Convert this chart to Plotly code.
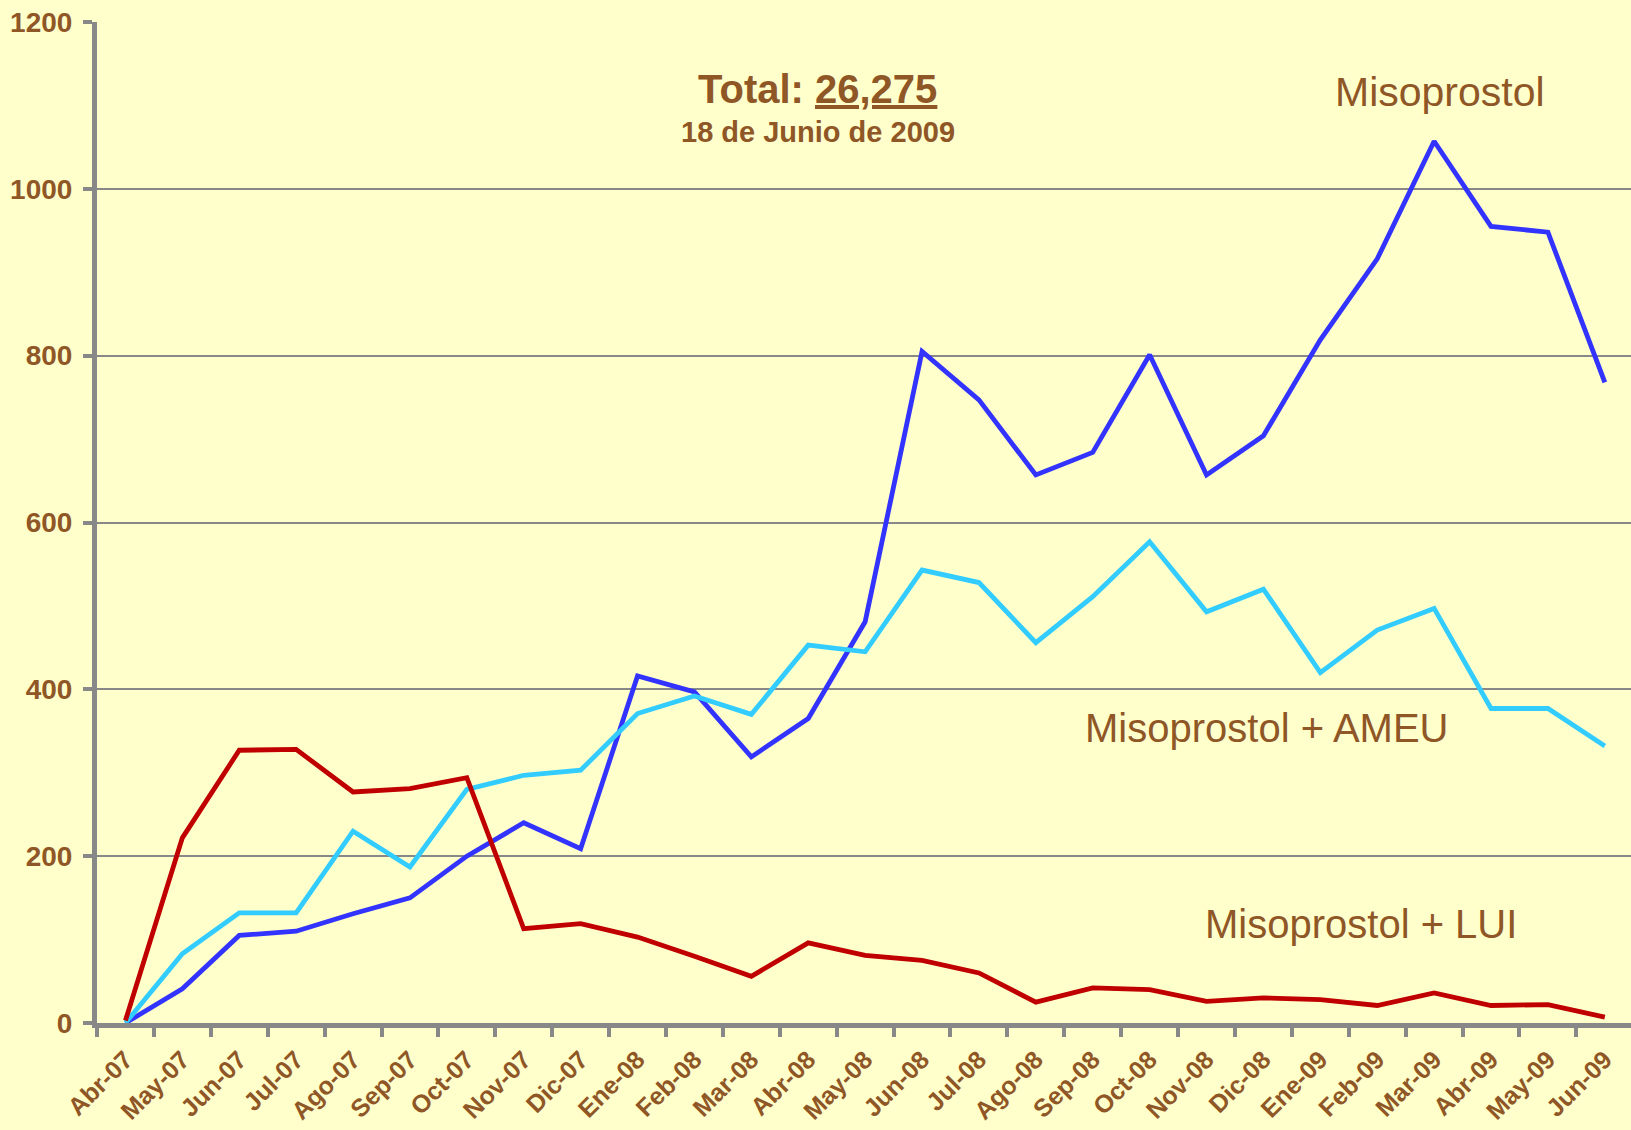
import plotly.graph_objects as go

months = ["Abr-07", "May-07", "Jun-07", "Jul-07", "Ago-07", "Sep-07", "Oct-07", "Nov-07", "Dic-07",
          "Ene-08", "Feb-08", "Mar-08", "Abr-08", "May-08", "Jun-08", "Jul-08", "Ago-08", "Sep-08",
          "Oct-08", "Nov-08", "Dic-08", "Ene-09", "Feb-09", "Mar-09", "Abr-09", "May-09", "Jun-09"]

misoprostol = [0, 41, 105, 110, 131, 150, 200, 240, 209,
               416, 397, 319, 365, 481, 805, 747, 657, 684,
               801, 657, 704, 819, 916, 1057, 955, 948, 768]

miso_ameu = [0, 83, 132, 132, 230, 187, 280, 297, 303,
             371, 392, 370, 453, 445, 543, 528, 456, 511,
             577, 493, 520, 420, 471, 497, 377, 377, 332]

miso_lui = [3, 222, 327, 328, 277, 281, 294, 113, 119,
            103, 80, 56, 96, 81, 75, 60, 25, 42,
            40, 26, 30, 28, 21, 36, 21, 22, 7]

series_names = ["Misoprostol", "Misoprostol + AMEU", "Misoprostol + LUI"]
series_colors = ["#3333FF", "#33CCFF", "#C00000"]

BROWN = "#8F5626"
GRID = "#888888"
FONT = "Liberation Sans, Arial, sans-serif"

fig = go.Figure()
for name, vals, col in zip(series_names, [misoprostol, miso_ameu, miso_lui], series_colors):
    fig.add_trace(go.Scatter(x=months, y=vals, mode="lines", name=name,
                             line=dict(color=col, width=4.8), showlegend=False))

annots = [
    dict(text="<b>Total: <u>26,275</u></b>", x=12.17, y=1120, size=40),
    dict(text="<b>18 de Junio de 2009</b>", x=12.17, y=1068, size=29),
    dict(text="Misoprostol", x=23.1, y=1116, size=41),
    dict(text="Misoprostol + AMEU", x=20.06, y=354, size=40),
    dict(text="Misoprostol + LUI", x=21.72, y=119, size=40),
]
for a in annots:
    fig.add_annotation(text=a["text"], x=a["x"], y=a["y"], xref="x", yref="y",
                       showarrow=False, xanchor="center", yanchor="middle",
                       font=dict(family=FONT, size=a["size"], color=BROWN))

fig.update_layout(
    width=1631, height=1130,
    margin=dict(l=97, r=0, t=22, b=107),
    paper_bgcolor="#FFFFCC", plot_bgcolor="#FFFFCC",
    font=dict(family=FONT, color=BROWN),
)
fig.update_xaxes(
    type="category", range=[-0.5, 26.46],
    showline=True, linecolor=GRID, linewidth=5,
    ticks="outside", tickson="boundaries", ticklen=9, tickwidth=4, tickcolor=GRID,
    tickangle=-45, ticklabelstandoff=7,
    tickfont=dict(family=FONT, size=25, color=BROWN, weight="bold"),
    showgrid=False, zeroline=False,
)
fig.update_yaxes(
    range=[0, 1200], dtick=200, tick0=0,
    showline=True, linecolor=GRID, linewidth=5,
    ticks="outside", ticklen=9, tickwidth=4, tickcolor=GRID,
    ticklabelstandoff=5,
    tickfont=dict(family=FONT, size=28, color=BROWN, weight="bold"),
    showgrid=True, gridcolor=GRID, gridwidth=2, zeroline=False,
)

fig.write_html("out.html", config={"displayModeBar": False},
               post_script="document.body.style.margin='0';document.body.style.overflow='hidden';")
